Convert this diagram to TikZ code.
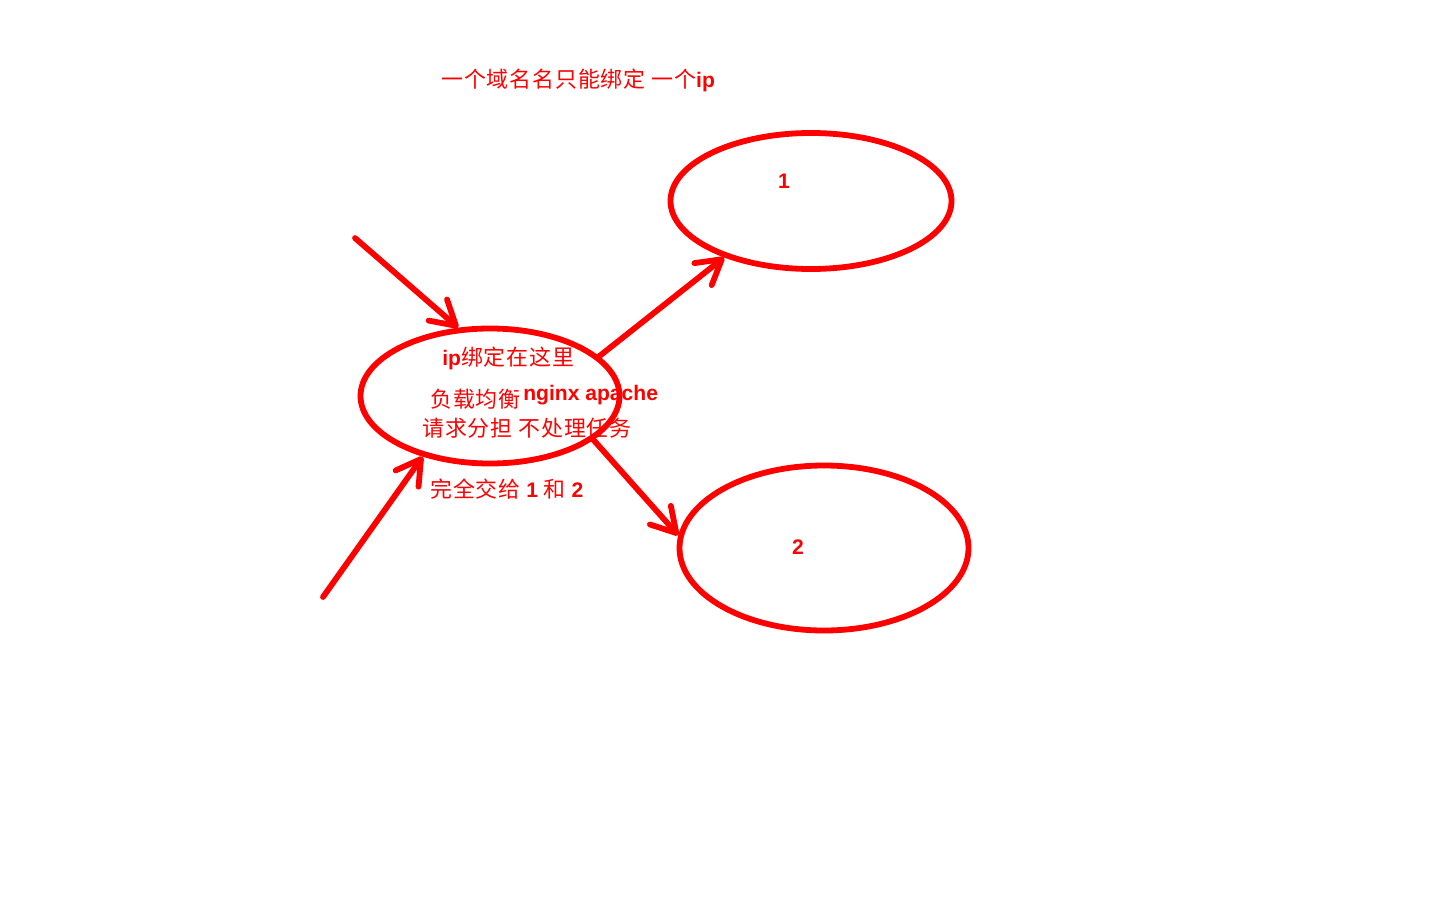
\documentclass[tikz,border=0pt]{standalone}
\usepackage{fontspec}
\setmainfont{Liberation Sans}
\newfontfamily\cjk[LetterSpace=4]{Noto Sans CJK SC}
\usetikzlibrary{shapes.geometric,arrows.meta}
\newcommand\latb[1]{{\normalfont\bfseries\fontsize{15}{18}\selectfont #1}}
\begin{document}
\begin{tikzpicture}[x=0.25mm,y=-0.25mm,
  bubble/.style={ellipse, draw=red, line width=1.45mm, inner sep=0pt},
  arr/.style={draw=red, line width=1.45mm, line cap=round, -{Straight Barb[length=6mm,width=7mm,round]}},
  zh/.style={text=red, font=\cjk\fontsize{15.6}{18}\selectfont, inner sep=0pt, anchor=west},
  lat/.style={text=red, font=\bfseries\fontsize{15}{18}\selectfont, inner sep=0pt}]
\useasboundingbox (0,0) rectangle (1440,900);
\fill[white] (0,0) rectangle (1440,900);
\node[bubble, minimum width=64.75mm, minimum height=33.75mm] (lb) at (490,396) {};
\node[bubble, minimum width=70.25mm, minimum height=34mm] (e1) at (811,201) {};
\node[bubble, minimum width=72.25mm, minimum height=41.25mm] (e2) at (824,548) {};
\coordinate (in1) at (355,238);
\coordinate (in2) at (323,597);
\draw[arr] (in1) -- (lb.115);
\draw[arr] (in2) -- (lb.-138);
\draw[arr] (lb.20) -- (e1.213);
\draw[arr] (lb.-23) -- (e2.175);
\node[zh] (t0) at (441,80) {一个域名名只能绑定 一个\latb{ip}};
\node[zh] (t1) at (442,358) {\latb{ip}绑定在这里};
\node[zh] (t2) at (430,399) {负载均衡};
\node[zh] (t2b) at (523,395) {\latb{nginx apache}};
\node[zh] (t3) at (422,428) {请求分担 不处理任务};
\node[zh] (t4) at (430,489) {完全交给 \latb{1} 和 \latb{2}};
\node[lat] (n1) at (784,181) {1};
\node[lat] (n2) at (798,547) {2};
\end{tikzpicture}
\end{document}
